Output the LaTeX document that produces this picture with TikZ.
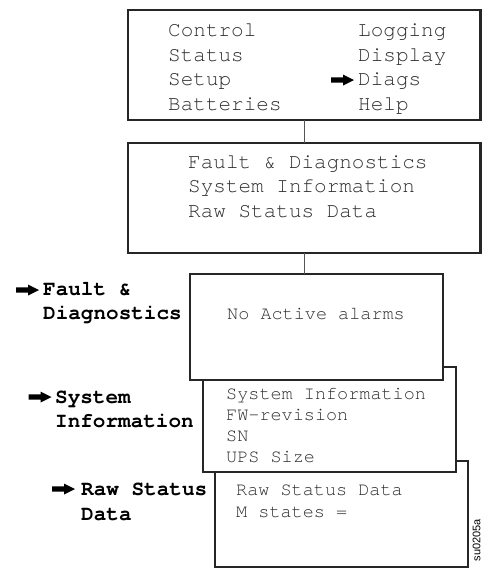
\documentclass[tikz,border=0pt]{standalone}
\usepackage{fontspec}
\newfontfamily\cour{TeX Gyre Cursor}
\newfontfamily\sfnote{Liberation Sans}
\definecolor{boxcol}{HTML}{262626}
\definecolor{txtcol}{HTML}{2E2E2E}
\definecolor{conncol}{HTML}{555555}
\begin{document}
\begin{tikzpicture}[x=1pt,y=-1pt,
  box/.style={draw=boxcol, line width=2.2pt, fill=white, inner sep=0pt, outer sep=0pt, anchor=north west},
  conn/.style={draw=conncol, line width=1.3pt},
  bigtxt/.style={font=\cour\fontsize{21}{24}\selectfont, text=txtcol, anchor=base west, inner sep=0pt},
  smalltxt/.style={font=\cour\fontsize{18.5}{21}\selectfont, text=txtcol, anchor=base west, inner sep=0pt},
  labtxt/.style={font=\cour\bfseries\fontsize{21}{24}\selectfont, text=black, anchor=base west, inner sep=0pt},
  blockarrow/.pic={\fill[black] (0,-2.6) -- (12,-2.6) -- (12,-5.5) -- (23,0) -- (12,5.5) -- (12,2.6) -- (0,2.6) -- cycle;}
]
\useasboundingbox (0,0) rectangle (482,571);
% boxes (later ones behind earlier ones)
\node[box, minimum width=253pt, minimum height=106pt] (b5) at (215,461) {};
\node[box, minimum width=253pt, minimum height=105pt] (b4) at (203,367) {};
\node[box, minimum width=253pt, minimum height=106pt] (b3) at (190,274) {};
\node[box, minimum width=352.5pt, minimum height=110pt] (b1) at (128,10) {};
\node[box, minimum width=352.5pt, minimum height=110pt] (b2) at (128,143) {};
% connectors
\draw[conn] (b1.south) -- (b1.south |- b2.north);
\draw[conn] (b2.south) -- (b2.south |- b3.north);
% box 1 text
\node[bigtxt] (t11) at (168,36.5) {Control};
\node[bigtxt] (t12) at (168,61) {Status};
\node[bigtxt] (t13) at (168,85.5) {Setup};
\node[bigtxt] (t14) at (168,110) {Batteries};
\node[bigtxt] (t15) at (358,36.5) {Logging};
\node[bigtxt] (t16) at (358,61) {Display};
\node[bigtxt] (t17) at (358,85.5) {Diags};
\node[bigtxt] (t18) at (358,110) {Help};
\pic at (331,80) {blockarrow};
% box 2 text
\node[bigtxt] (t21) at (188,168) {Fault \& Diagnostics};
\node[bigtxt] (t22) at (188,192.5) {System Information};
\node[bigtxt] (t23) at (188,217) {Raw Status Data};
% box 3 text
\node[smalltxt] (t31) at (227,319) {No Active alarms};
% box 4 text
\node[smalltxt] (t41) at (226,399.5) {System Information};
\node[smalltxt] (t42) at (226,420.5) {FW-revision};
\node[smalltxt] (t43) at (226,441.5) {SN};
\node[smalltxt] (t44) at (226,462.5) {UPS Size};
% box 5 text
\node[smalltxt] (t51) at (236,495) {Raw Status Data};
\node[smalltxt] (t52) at (236,517) {M states =};
% side labels
\pic at (16,290) {blockarrow};
\node[labtxt] (l11) at (43,295) {Fault \&};
\node[labtxt] (l12) at (43,319) {Diagnostics};
\pic at (28.5,397) {blockarrow};
\node[labtxt] (l21) at (55,403) {System};
\node[labtxt] (l22) at (55,427) {Information};
\pic at (52,489) {blockarrow};
\node[labtxt] (l31) at (81,495) {Raw Status};
\node[labtxt] (l32) at (81,520) {Data};
% figure id
\node[font=\sfnote\fontsize{11}{13}\selectfont, rotate=90, inner sep=0pt] (fid) at (476.5,540) {su0205a};
\end{tikzpicture}
\end{document}
